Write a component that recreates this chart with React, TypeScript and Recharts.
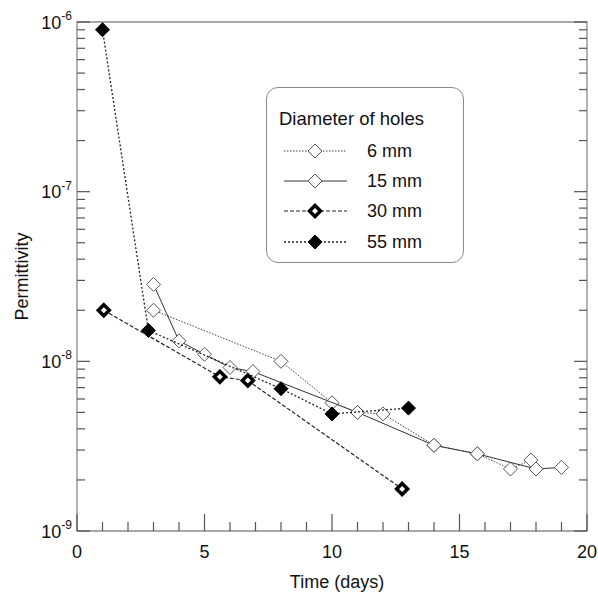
import { ScatterChart, Scatter, XAxis, YAxis, ReferenceArea } from 'recharts';

// values (time in days, permittivity)
const days6 = [3, 8, 10, 11, 12, 14, 15.7, 17, 17.8];
const perm6 = [2.0e-8, 1.0e-8, 5.7e-9, 5.0e-9, 4.9e-9, 3.2e-9, 2.85e-9, 2.32e-9, 2.62e-9];

const days15 = [3, 4, 5, 6, 6.9, 11, 14, 15.7, 18, 19];
const perm15 = [2.84e-8, 1.32e-8, 1.1e-8, 9.2e-9, 8.7e-9, 5.0e-9, 3.2e-9, 2.85e-9, 2.32e-9, 2.37e-9];

const days30 = [1.05, 5.6, 6.7, 12.75];
const perm30 = [2.0e-8, 8.1e-9, 7.7e-9, 1.77e-9];

const days55 = [1, 2.8, 8, 10, 13];
const perm55 = [9.0e-7, 1.52e-8, 6.9e-9, 4.9e-9, 5.3e-9];

const xTicks = [0, 1, 2, 3, 4, 5, 6, 7, 8, 9, 10, 11, 12, 13, 14, 15, 16, 17, 18, 19, 20];
const xMajor = [0, 5, 10, 15, 20];
const decades = [-9, -8, -7];
const mantissas = [1, 2, 3, 4, 5, 6, 7, 8, 9];
const yTicks = decades.flatMap((e) => mantissas.map((m) => m * Math.pow(10, e))).concat([1e-6]);

const toPoints = (xs: number[], ys: number[]) => xs.map((x, i) => ({ x, y: ys[i] }));

const FONT = "Arial, 'Liberation Sans', sans-serif";
const FRAME = '#8a8a8a';
const TICK = '#555';

const isMajorY = (v: number) => {
  const l = Math.log10(v);
  return Math.abs(l - Math.round(l)) < 1e-6;
};

// diamond markers
const diamondPts = (cx: number, cy: number, r: number) =>
  `${cx},${cy - r} ${cx + r},${cy} ${cx},${cy + r} ${cx - r},${cy}`;
const openDiamond = (props: any) => (
  <polygon points={diamondPts(props.cx, props.cy, 7)} fill="#fff" stroke="#555" strokeWidth={1} />
);
const boldDiamond = (props: any) => (
  <polygon points={diamondPts(props.cx, props.cy, 5.5)} fill="#fff" stroke="#000" strokeWidth={3.5} />
);
const filledDiamond = (props: any) => (
  <polygon points={diamondPts(props.cx, props.cy, 7)} fill="#000" stroke="#000" strokeWidth={1} />
);

const series = [
  { name: '6 mm', data: toPoints(days6, perm6), shape: openDiamond, line: { stroke: '#444', strokeWidth: 1, strokeDasharray: '1.5 1.5' } },
  { name: '15 mm', data: toPoints(days15, perm15), shape: openDiamond, line: { stroke: '#333', strokeWidth: 1 } },
  { name: '30 mm', data: toPoints(days30, perm30), shape: boldDiamond, line: { stroke: '#222', strokeWidth: 1.2, strokeDasharray: '4 2' } },
  { name: '55 mm', data: toPoints(days55, perm55), shape: filledDiamond, line: { stroke: '#222', strokeWidth: 1.3, strokeDasharray: '2 2' } },
];

// ticks point into the plot on every side
const LeftTick = ({ x, y, payload }: any) => {
  const major = isMajorY(payload.value);
  const exp = Math.round(Math.log10(payload.value));
  return (
    <g>
      <line x1={x} x2={x + (major ? 13 : 8)} y1={y} y2={y} stroke={TICK} strokeWidth={1.2} />
      {major && (
        <text x={x - 5} y={y + 6.5} textAnchor="end" fontFamily={FONT} fontSize={18} fill="#111">
          10<tspan dy={-8.5} fontSize={12}>{exp}</tspan>
        </text>
      )}
    </g>
  );
};
const RightTick = ({ x, y, payload }: any) => {
  const major = isMajorY(payload.value);
  return <line x1={x} x2={x - (major ? 13 : 8)} y1={y} y2={y} stroke={TICK} strokeWidth={1.2} />;
};
const BottomTick = ({ x, y, payload }: any) => {
  const major = xMajor.includes(payload.value);
  return (
    <g>
      <line x1={x} x2={x} y1={y} y2={y - (major ? 17 : 9)} stroke={TICK} strokeWidth={1.2} />
      {major && (
        <text x={x} y={y + 27} textAnchor="middle" fontFamily={FONT} fontSize={18} fill="#111">
          {payload.value}
        </text>
      )}
    </g>
  );
};
const TopTick = ({ x, y, payload }: any) => {
  const major = xMajor.includes(payload.value);
  return <line x1={x} x2={x} y1={y} y2={y + (major ? 17 : 9)} stroke={TICK} strokeWidth={1.2} />;
};

const YTitle = ({ viewBox }: any) => {
  const cx = 22;
  const cy = viewBox.y + viewBox.height / 2;
  return (
    <text x={cx} y={cy} transform={`rotate(-90, ${cx}, ${cy})`} textAnchor="middle" dominantBaseline="central" fontFamily={FONT} fontSize={18} fill="#111">
      Permittivity
    </text>
  );
};
const XTitle = ({ viewBox }: any) => {
  const cx = viewBox.x + viewBox.width / 2 + 5;
  return (
    <text x={cx} y={viewBox.y + 57} textAnchor="middle" fontFamily={FONT} fontSize={18} fill="#111">
      Time (days)
    </text>
  );
};

function LegendBox() {
  const rowTops = [63, 93, 123, 154];
  return (
    <div
      style={{
        position: 'absolute',
        left: 266,
        top: 87,
        width: 198,
        height: 176,
        border: `1.2px solid ${FRAME}`,
        borderRadius: 12,
        background: '#fff',
        fontFamily: FONT,
        color: '#111',
        boxSizing: 'border-box',
      }}
    >
      <div style={{ position: 'absolute', left: 12, top: 19, fontSize: 18.5, lineHeight: '24px', whiteSpace: 'nowrap' }}>
        Diameter of holes
      </div>
      {series.map((s, i) => (
        <div key={s.name} style={{ position: 'absolute', left: 0, top: rowTops[i] - 12, height: 24, width: 196 }}>
          <svg width={70} height={24} style={{ position: 'absolute', left: 15, top: 0 }}>
            <line x1={2} x2={65} y1={12} y2={12} {...s.line} />
            {s.shape({ cx: 33, cy: 12 })}
          </svg>
          <span style={{ position: 'absolute', left: 100, top: 0, fontSize: 18, lineHeight: '24px', whiteSpace: 'nowrap' }}>
            {s.name}
          </span>
        </div>
      ))}
    </div>
  );
}

export default function App() {
  return (
    <div style={{ position: 'absolute', left: 0, top: 0, width: 598, height: 595 }}>
      <ScatterChart width={598} height={595} margin={{ top: 21, right: 10, bottom: 0, left: 0 }}>
        <XAxis
          xAxisId="bottom"
          dataKey="x"
          type="number"
          domain={[0, 20]}
          ticks={xTicks}
          interval={0}
          height={64}
          tickSize={0}
          tickMargin={0}
          tickLine={false}
          tick={<BottomTick />}
          axisLine={false}
          allowDataOverflow
          label={<XTitle />}
        />
        <XAxis
          xAxisId="top"
          orientation="top"
          type="number"
          domain={[0, 20]}
          ticks={xTicks}
          interval={0}
          height={1}
          tickSize={0}
          tickMargin={0}
          tickLine={false}
          tick={<TopTick />}
          axisLine={false}
          allowDataOverflow
        />
        <YAxis
          yAxisId="left"
          dataKey="y"
          type="number"
          scale="log"
          domain={[1e-9, 1e-6]}
          ticks={yTicks}
          interval={0}
          width={77}
          tickSize={0}
          tickMargin={0}
          tickLine={false}
          tick={<LeftTick />}
          axisLine={false}
          allowDataOverflow
          label={<YTitle />}
        />
        <YAxis
          yAxisId="right"
          orientation="right"
          type="number"
          scale="log"
          domain={[1e-9, 1e-6]}
          ticks={yTicks}
          interval={0}
          width={1}
          tickSize={0}
          tickMargin={0}
          tickLine={false}
          tick={<RightTick />}
          axisLine={false}
          allowDataOverflow
        />
        <ReferenceArea
          xAxisId="bottom"
          yAxisId="left"
          x1={0}
          x2={20}
          y1={1e-9}
          y2={1e-6}
          fill="none"
          fillOpacity={0}
          stroke={FRAME}
          strokeWidth={1.3}
        />
        {series.map((s) => (
          <Scatter
            key={s.name}
            name={s.name}
            data={s.data}
            xAxisId="bottom"
            yAxisId="left"
            line={s.line}
            lineType="joint"
            shape={s.shape}
            isAnimationActive={false}
          />
        ))}
      </ScatterChart>
      <LegendBox />
    </div>
  );
}
